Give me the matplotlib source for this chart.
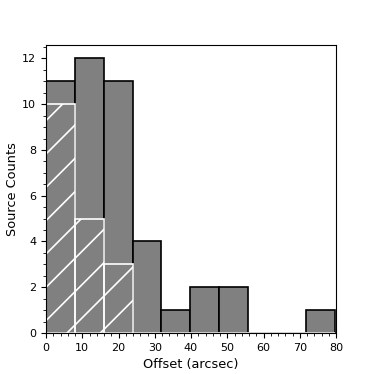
import matplotlib
matplotlib.use("Agg")
import matplotlib.pyplot as plt
import numpy as np
from matplotlib.ticker import MultipleLocator

# histogram data
bin_edges = np.linspace(0., 79.6, 11)
all_counts = [11, 12, 11, 4, 1, 2, 2, 0, 0, 1]
sub_counts = [10, 5, 3, 0, 0, 0, 0, 0, 0, 0]

plt.rcParams['hatch.color'] = 'white'
plt.rcParams['hatch.linewidth'] = 1.2

fig = plt.figure(figsize=(3.74, 3.74), dpi=100)
ax = fig.add_axes([46/374., 1-333/374., 290/374., 288.3/374.])

widths = np.diff(bin_edges)
ax.bar(bin_edges[:-1], all_counts, width=widths, align='edge',
       color='gray', edgecolor='k', linewidth=1.2)
ax.bar(bin_edges[:-1], sub_counts, width=widths, align='edge',
       color='none', edgecolor='white', linewidth=1.2, hatch='/')

ax.set_xlim([0, 80])
ax.set_ylim([0, 12.6])
ax.xaxis.set_major_locator(MultipleLocator(10))
ax.xaxis.set_minor_locator(MultipleLocator(2))
ax.yaxis.set_major_locator(MultipleLocator(2))
ax.yaxis.set_minor_locator(MultipleLocator(0.5))
ax.tick_params(labelsize=8)

ax.set_xlabel("Offset (arcsec)", fontsize=9.3)
ax.set_ylabel("Source Counts", fontsize=9.3, labelpad=2)

plt.savefig("out.png", dpi=100)
